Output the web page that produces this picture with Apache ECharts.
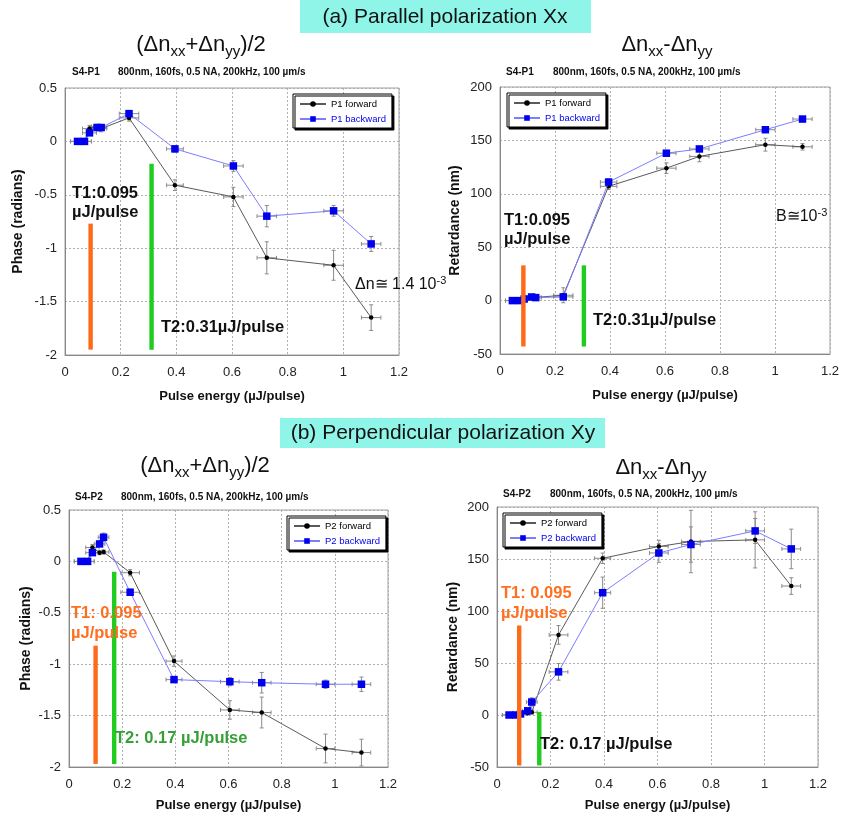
<!DOCTYPE html>
<html><head><meta charset="utf-8">
<script src="https://cdn.jsdelivr.net/npm/echarts@6/dist/echarts.min.js"></script>
<style>html,body{margin:0;padding:0;background:#fff}#c{width:842px;height:816px}</style>
</head><body><div id="c"></div><script>
// ---- data ----
const energy = [0.045, 0.07, 0.088, 0.115, 0.13, 0.23, 0.395, 0.605, 0.725, 0.965, 1.1];
const energyErr = [0.025, 0.025, 0.025, 0.02, 0.02, 0.035, 0.03, 0.035, 0.035, 0.035, 0.035];
const xTicks = [0, 0.2, 0.4, 0.6, 0.8, 1, 1.2];

// (a) parallel, phase
const aPhaseFwd = [0, 0, 0.12, 0.14, 0.12, 0.22, -0.41, -0.52, -1.09, -1.16, -1.65];
const aPhaseFwdErr = [0, 0, 0.03, 0.02, 0.03, 0.03, 0.05, 0.09, 0.15, 0.14, 0.12];
const aPhaseBwd = [0, 0, 0.08, 0.13, 0.13, 0.26, -0.07, -0.23, -0.70, -0.65, -0.96];
const aPhaseBwdErr = [0, 0, 0.02, 0.02, 0.02, 0.03, 0.03, 0.05, 0.10, 0.05, 0.07];
// (a) parallel, retardance
const aRetFwd = [0, 0, 1.5, 3.5, 3, 5, 107, 124, 135, 146, 144];
const aRetFwdErr = [0, 0, 1, 1, 1, 7, 3, 5, 5, 6, 3];
const aRetBwd = [0, 0, 1.5, 3.4, 2.8, 3.5, 111, 138, 142, 160, 170];
const aRetBwdErr = [0, 0, 1, 1, 1, 2, 3, 2, 2, 2, 2];
// (b) perpendicular, phase
const bPhaseFwd = [0, 0, 0.135, 0.085, 0.092, -0.11, -0.97, -1.445, -1.47, -1.82, -1.86];
const bPhaseFwdErr = [0, 0, 0.03, 0.02, 0.02, 0.03, 0.05, 0.09, 0.15, 0.14, 0.13];
const bPhaseBwd = [0, 0, 0.085, 0.17, 0.235, -0.30, -1.15, -1.17, -1.18, -1.195, -1.195];
const bPhaseBwdErr = [0, 0, 0.02, 0.02, 0.04, 0.03, 0.02, 0.04, 0.10, 0.04, 0.07];
// (b) perpendicular, retardance
const bRetFwd = [0, 0, 1.5, 1.6, 2.6, 77, 150.7, 162, 166.8, 168.4, 124];
const bRetFwdErr = [0, 0, 1, 1, 1, 9, 5, 6, 30, 27, 8];
const bRetBwd = [0, 0, 1, 4, 12.5, 41.5, 117.6, 155.8, 163.9, 177, 159.7];
const bRetBwdErr = [0, 0, 1, 1, 4, 8, 15, 9, 17, 12, 19];

// threshold bars: [energy, low, high]
const aPhaseT1 = [0.092, -1.95, -0.77];
const aPhaseT2 = [0.311, -1.95, -0.21];
const aRetT1 = [0.085, -43, 33];
const aRetT2 = [0.305, -43, 33];
const bPhaseT1 = [0.100, -1.97, -0.82];
const bPhaseT2 = [0.170, -1.97, -0.10];
const bRetT1 = [0.083, -48.5, 86];
const bRetT2 = [0.158, -48.5, 3];

// ---- chart ----
const chart = echarts.init(document.getElementById('c'), null, {renderer: 'canvas'});
const FONT = 'Liberation Sans, Arial, sans-serif';
const ORANGE = '#ff6a1a', GREEN = '#1fcc1f';

const panels = [
  {grid:{left:65, top:88, width:334, height:267}, yMin:-2, yMax:0.5, yInt:0.5, yName:'Phase (radians)', yGap:40, xGap:35,
   fwd:aPhaseFwd, fwdE:aPhaseFwdErr, bwd:aPhaseBwd, bwdE:aPhaseBwdErr, names:['P1 forward','P1 backward'],
   legend:{left:293, top:94}, t1:aPhaseT1, t2:aPhaseT2},
  {grid:{left:500, top:87, width:330, height:267}, yMin:-50, yMax:200, yInt:50, yName:'Retardance (nm)', yGap:38, xGap:35,
   fwd:aRetFwd, fwdE:aRetFwdErr, bwd:aRetBwd, bwdE:aRetBwdErr, names:['P1 forward','P1 backward'],
   legend:{left:507, top:93}, t1:aRetT1, t2:aRetT2},
  {grid:{left:69, top:510, width:319, height:257}, yMin:-2, yMax:0.5, yInt:0.5, yName:'Phase (radians)', yGap:36, xGap:32,
   fwd:bPhaseFwd, fwdE:bPhaseFwdErr, bwd:bPhaseBwd, bwdE:bPhaseBwdErr, names:['P2 forward','P2 backward'],
   legend:{left:287, top:516}, t1:bPhaseT1, t2:bPhaseT2},
  {grid:{left:497, top:507, width:321, height:260}, yMin:-50, yMax:200, yInt:50, yName:'Retardance (nm)', yGap:37, xGap:32,
   fwd:bRetFwd, fwdE:bRetFwdErr, bwd:bRetBwd, bwdE:bRetBwdErr, names:['P2 forward','P2 backward'],
   legend:{left:503, top:513}, t1:bRetT1, t2:bRetT2}
];

function fmt(v){ return String(+(+v).toFixed(1)); }

function errRender(params, api){
  const x = api.value(0), y = api.value(1), xe = api.value(2), ye = api.value(3);
  const st = {stroke:'#8a8a8a', lineWidth:1};
  const ch = [];
  if (xe > 0) {
    const a = api.coord([x - xe, y]), b = api.coord([x + xe, y]);
    ch.push({type:'line', shape:{x1:a[0], y1:a[1], x2:b[0], y2:b[1]}, style:st});
    ch.push({type:'line', shape:{x1:a[0], y1:a[1]-2, x2:a[0], y2:a[1]+2}, style:st});
    ch.push({type:'line', shape:{x1:b[0], y1:b[1]-2, x2:b[0], y2:b[1]+2}, style:st});
  }
  if (ye > 0) {
    const a = api.coord([x, y - ye]), b = api.coord([x, y + ye]);
    ch.push({type:'line', shape:{x1:a[0], y1:a[1], x2:b[0], y2:b[1]}, style:st});
    ch.push({type:'line', shape:{x1:a[0]-2, y1:a[1], x2:a[0]+2, y2:a[1]}, style:st});
    ch.push({type:'line', shape:{x1:b[0]-2, y1:b[1], x2:b[0]+2, y2:b[1]}, style:st});
  }
  return {type:'group', children:ch};
}
function barRender(color){
  return function(params, api){
    const x = api.value(0);
    const lo = api.coord([x, api.value(1)]), hi = api.coord([x, api.value(2)]);
    return {type:'rect', shape:{x:lo[0]-2.2, y:hi[1], width:4.4, height:lo[1]-hi[1]}, style:{fill:color}};
  };
}

const grids = [], xAxes = [], yAxes = [], series = [], legends = [];
panels.forEach((p, i) => {
  grids.push(Object.assign({show:true, borderColor:'#a0a0a0', borderWidth:1, containLabel:false, outerBoundsMode:'none'}, p.grid));
  xAxes.push({gridIndex:i, type:'value', min:xTicks[0], max:xTicks[xTicks.length-1], interval:0.2,
    axisLine:{show:true, onZero:false, lineStyle:{color:'#888'}}, axisTick:{show:false},
    splitLine:{show:true, lineStyle:{type:[2,2], color:'#b0b0b0'}},
    axisLabel:{color:'#222', fontSize:13, fontFamily:FONT, margin:11, formatter:fmt},
    name:'Pulse energy (\u00b5J/pulse)', nameLocation:'middle', nameGap:p.xGap,
    nameTextStyle:{fontWeight:'bold', fontSize:13, color:'#111', fontFamily:FONT}});
  yAxes.push({gridIndex:i, type:'value', min:p.yMin, max:p.yMax, interval:p.yInt,
    axisLine:{show:true, onZero:false, lineStyle:{color:'#888'}}, axisTick:{show:false},
    splitLine:{show:true, lineStyle:{type:[2,2], color:'#b0b0b0'}},
    axisLabel:{color:'#222', fontSize:13, fontFamily:FONT, margin:8, formatter:fmt},
    name:p.yName, nameLocation:'middle', nameGap:p.yGap,
    nameTextStyle:{fontWeight:'bold', fontSize:14, color:'#111', fontFamily:FONT}});
  series.push({type:'custom', name:'err-f'+i, xAxisIndex:i, yAxisIndex:i, renderItem:errRender, z:1,
    encode:{x:0, y:1}, data:energy.map((x,k)=>[x, p.fwd[k], energyErr[k], p.fwdE[k]])});
  series.push({type:'custom', name:'err-b'+i, xAxisIndex:i, yAxisIndex:i, renderItem:errRender, z:1,
    encode:{x:0, y:1}, data:energy.map((x,k)=>[x, p.bwd[k], energyErr[k], p.bwdE[k]])});
  series.push({type:'line', name:p.names[0], xAxisIndex:i, yAxisIndex:i, z:2,
    data:energy.map((x,k)=>[x, p.fwd[k]]), symbol:'circle', symbolSize:4.5, showSymbol:true,
    lineStyle:{color:'#5a5a5a', width:1}, itemStyle:{color:'#000'}, animation:false});
  series.push({type:'line', name:p.names[1], xAxisIndex:i, yAxisIndex:i, z:3,
    data:energy.map((x,k)=>[x, p.bwd[k]]), symbol:'rect', symbolSize:7.5, showSymbol:true,
    lineStyle:{color:'#7d7dff', width:1}, itemStyle:{color:'#0000ee'}, animation:false});
  series.push({type:'custom', name:'t1-'+i, xAxisIndex:i, yAxisIndex:i, renderItem:barRender(ORANGE), z:5,
    encode:{x:0, y:[1,2]}, data:[p.t1]});
  series.push({type:'custom', name:'t2-'+i, xAxisIndex:i, yAxisIndex:i, renderItem:barRender(GREEN), z:5,
    encode:{x:0, y:[1,2]}, data:[p.t2]});
  legends.push({left:p.legend.left, top:p.legend.top, orient:'vertical', backgroundColor:'#fff',
    borderColor:'#000', borderWidth:1, padding:[5,6,4,6], itemGap:5, itemWidth:26, itemHeight:7,
    shadowColor:'#000', shadowOffsetX:2, shadowOffsetY:2, shadowBlur:0, selectedMode:false,
    textStyle:{fontSize:9.5, fontFamily:FONT},
    data:[{name:p.names[0], textStyle:{color:'#000'}}, {name:p.names[1], textStyle:{color:'#0000ee'}}]});
});

function txt(x, y, text, font, fill, extra){
  return {type:'text', x:x, y:y, z:100,
    style:Object.assign({text:text, font:font, fill:fill, textAlign:'left', textVerticalAlign:'middle'}, extra||{})};
}
const B16 = 'bold 16.5px ' + FONT;
const sumRich = {m:{fontSize:22, fontFamily:FONT, fill:'#111', lineHeight:28}, s:{fontSize:15, fontFamily:FONT, fill:'#111', verticalAlign:'bottom', lineHeight:20}};
const supRich = {m:{fontSize:16, fontFamily:FONT, fill:'#111', lineHeight:20}, p:{fontSize:11, fontFamily:FONT, fill:'#111', verticalAlign:'top', lineHeight:11}};
const graphics = [
  {type:'rect', shape:{x:300, y:0, width:291, height:33}, style:{fill:'#8ff5e8'}},
  txt(445, 17, '(a) Parallel polarization Xx', '21px ' + FONT, '#111', {textAlign:'center'}),
  {type:'rect', shape:{x:280, y:418, width:325, height:30}, style:{fill:'#8ff5e8'}},
  txt(443, 433, '(b) Perpendicular polarization Xy', '21px ' + FONT, '#111', {textAlign:'center'}),
  // panel headings
  txt(201, 45, '{m|(\u0394n}{s|xx}{m|+\u0394n}{s|yy}{m|)/2}', '22px '+FONT, '#111', {textAlign:'center', rich:sumRich}),
  txt(667, 45, '{m|\u0394n}{s|xx}{m|-\u0394n}{s|yy}', '22px '+FONT, '#111', {textAlign:'center', rich:sumRich}),
  txt(205, 466, '{m|(\u0394n}{s|xx}{m|+\u0394n}{s|yy}{m|)/2}', '22px '+FONT, '#111', {textAlign:'center', rich:sumRich}),
  txt(661, 468, '{m|\u0394n}{s|xx}{m|-\u0394n}{s|yy}', '22px '+FONT, '#111', {textAlign:'center', rich:sumRich}),
  // conditions
  txt(72, 72, 'S4-P1', 'bold 10px '+FONT, '#111'),
  txt(118, 72, '800nm, 160fs, 0.5 NA, 200kHz, 100 \u00b5m/s', 'bold 10px '+FONT, '#111'),
  txt(506, 72, 'S4-P1', 'bold 10px '+FONT, '#111'),
  txt(553, 72, '800nm, 160fs, 0.5 NA, 200kHz, 100 \u00b5m/s', 'bold 10px '+FONT, '#111'),
  txt(75, 497, 'S4-P2', 'bold 10px '+FONT, '#111'),
  txt(121, 497, '800nm, 160fs, 0.5 NA, 200kHz, 100 \u00b5m/s', 'bold 10px '+FONT, '#111'),
  txt(503, 494, 'S4-P2', 'bold 10px '+FONT, '#111'),
  txt(550, 494, '800nm, 160fs, 0.5 NA, 200kHz, 100 \u00b5m/s', 'bold 10px '+FONT, '#111'),
  // annotations panel 1
  txt(72, 193, 'T1:0.095', B16, '#111'),
  txt(72, 212, '\u00b5J/pulse', B16, '#111'),
  txt(161, 327, 'T2:0.31\u00b5J/pulse', B16, '#111'),
  txt(355, 285, '{m|\u0394n\u2245 1.4 10}{p|-3}', '16px '+FONT, '#111', {rich:supRich}),
  // panel 2
  txt(504, 220, 'T1:0.095', B16, '#111'),
  txt(504, 239, '\u00b5J/pulse', B16, '#111'),
  txt(593, 320, 'T2:0.31\u00b5J/pulse', B16, '#111'),
  txt(776, 217, '{m|B\u224510}{p|-3}', '16px '+FONT, '#111', {rich:supRich}),
  // panel 3
  txt(71, 613, 'T1: 0.095', B16, '#ff6f1f'),
  txt(71, 633, '\u00b5J/pulse', B16, '#ff6f1f'),
  txt(115, 738, 'T2: 0.17 \u00b5J/pulse', B16, '#35a035'),
  // panel 4
  txt(501, 593, 'T1: 0.095', B16, '#ff6f1f'),
  txt(501, 613, '\u00b5J/pulse', B16, '#ff6f1f'),
  txt(540, 744, 'T2: 0.17 \u00b5J/pulse', B16, '#111')
];

chart.setOption({
  animation:false,
  backgroundColor:'#fff',
  textStyle:{fontFamily:FONT},
  grid:grids, xAxis:xAxes, yAxis:yAxes, legend:legends, series:series, graphic:graphics
});
</script></body></html>
